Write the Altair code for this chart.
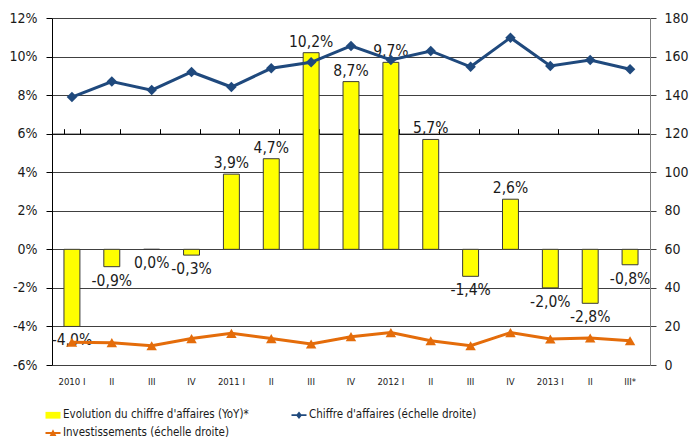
import altair as alt
import pandas as pd

quarter_labels = ["2010 I", "II", "III", "IV", "2011 I", "II", "III", "IV",
                  "2012 I", "II", "III", "IV", "2013 I", "II", "III*"]
yoy = [-4.0, -0.9, 0.0, -0.3, 3.9, 4.7, 10.2, 8.7, 9.7, 5.7, -1.4, 2.6, -2.0, -2.8, -0.8]
chiffre = [139, 147, 142.6, 152, 144.2, 153.9, 157, 165.5, 158.2, 162.9, 154.7, 169.8, 155.1, 158.2, 153.4]
invest = [11.8, 11.6, 10.0, 13.7, 16.4, 13.7, 10.9, 14.7, 16.8, 12.6, 10.0, 16.8, 13.5, 14.0, 12.6]

# legend order: laid out column by column in 2 columns
series_names = ["Evolution du chiffre d'affaires (YoY)*",
                "Investissements (échelle droite)",
                "Chiffre d'affaires (échelle droite)"]
series_colors = ["#FFFF00", "#E46C0A", "#1F497D"]
legend_paths = [
    "M-1,-0.45H1V0.45H-1Z",
    "M-1,-0.12H1V0.12H-1Z M0,-0.5L0.45,0.4H-0.45Z",
    "M-1,-0.12H1V0.12H-1Z M0,-0.5L0.4,0L0,0.5L-0.4,0Z",
]
BLUE, ORANGE = "#1F497D", "#E46C0A"

FONT = "DejaVu Sans Condensed"
W, H = 598, 347

df = pd.DataFrame({
    "pos": list(range(len(quarter_labels))),
    "yoy": yoy,
    "ca": chiffre,
    "inv": invest,
    "label": [f"{v:.1f}".replace(".", ",") + "%" for v in yoy],
    "series": series_names[0],
})
legend_df = pd.DataFrame({"series": series_names})

label_expr = "[" + ",".join("'" + s + "'" for s in quarter_labels) + "][datum.value]"

xscale = alt.Scale(paddingInner=0.6, paddingOuter=0.3)
lscale = alt.Scale(domain=[-6, 12], nice=False)
rscale = alt.Scale(domain=[0, 180], nice=False)
cscale = alt.Scale(domain=series_names, range=series_colors)
sscale = alt.Scale(domain=series_names, range=legend_paths)

leg = alt.Legend(
    title=None, orient="none", legendX=-7, legendY=389, columns=2,
    columnPadding=40, rowPadding=4, labelFont=FONT, labelFontSize=11.5,
    labelColor="#1a1a1a", symbolSize=225, symbolOpacity=1, labelLimit=0,
    labelOffset=2,
    symbolStrokeColor={"expr": "indexof(datum.value, 'Evolution') === 0 ? '#333333' : 'transparent'"},
    symbolStrokeWidth=1,
)

base = alt.Chart(df)

bars = base.mark_bar(stroke="#3a3a3a", strokeWidth=1).encode(
    x=alt.X("pos:O", scale=xscale, title=None,
            axis=alt.Axis(labelExpr=label_expr, ticks=False, domain=False,
                          labelAngle=0, labelPadding=11, labelFontSize=9.5,
                          labelFont=FONT, labelColor="#1a1a1a", grid=False)),
    y=alt.Y("yoy:Q", scale=lscale, title=None,
            axis=alt.Axis(values=list(range(-6, 13, 2)),
                          labelExpr="datum.value + '%'",
                          grid=True, gridColor="#404040", gridWidth=1,
                          domainColor="#000000", tickColor="#000000",
                          tickSize=6, labelPadding=9, labelFontSize=14,
                          labelFont=FONT, labelColor="#1a1a1a")),
    color=alt.Color("series:N", scale=cscale, legend=leg),
)

zero_axis = base.mark_text(opacity=0).encode(
    x=alt.X("pos:O", scale=xscale, title=None,
            axis=alt.Axis(labels=False, ticks=True, tickBand="extent",
                          domain=True, domainColor="#000000", tickColor="#000000",
                          tickSize=5, offset=-H * 6 / 18, grid=False)),
    y=alt.Y("yoy:Q", scale=lscale, axis=None),
    text="label:N",
)

txt_pos = base.mark_text(font=FONT, fontSize=15.5, baseline="alphabetic", dy=-6,
                         color="#1a1a1a").encode(
    x=alt.X("pos:O", scale=xscale, axis=None),
    y=alt.Y("yoy:Q", scale=lscale, axis=None),
    text="label:N",
).transform_filter("datum.yoy > 0")

txt_neg = base.mark_text(font=FONT, fontSize=15.5, baseline="top", dy=7,
                         color="#1a1a1a").encode(
    x=alt.X("pos:O", scale=xscale, axis=None),
    y=alt.Y("yoy:Q", scale=lscale, axis=None),
    text="label:N",
).transform_filter("datum.yoy <= 0")

ca_line = base.mark_line(color=BLUE, strokeWidth=3).encode(
    x=alt.X("pos:O", scale=xscale, axis=None),
    y=alt.Y("ca:Q", scale=rscale, title=None,
            axis=alt.Axis(orient="right", values=list(range(0, 181, 20)),
                          grid=False, domainColor="#808080", tickColor="#404040",
                          tickSize=6, labelPadding=8, labelFontSize=14,
                          labelFont=FONT, labelColor="#1a1a1a")),
)
ca_pts = base.mark_point(shape="diamond", filled=True, size=110, opacity=1,
                         color=BLUE).encode(
    x=alt.X("pos:O", scale=xscale, axis=None),
    y=alt.Y("ca:Q", scale=rscale, axis=None),
)
inv_line = base.mark_line(color=ORANGE, strokeWidth=3).encode(
    x=alt.X("pos:O", scale=xscale, axis=None),
    y=alt.Y("inv:Q", scale=rscale, axis=None),
)
inv_pts = base.mark_point(shape="triangle-up", filled=True, size=110, opacity=1,
                          color=ORANGE).encode(
    x=alt.X("pos:O", scale=xscale, axis=None),
    y=alt.Y("inv:Q", scale=rscale, axis=None),
)

legend_layer = alt.Chart(legend_df).mark_point(opacity=0, filled=True).encode(
    color=alt.Color("series:N", scale=cscale, legend=leg),
    shape=alt.Shape("series:N", scale=sscale, legend=leg),
)

chart = alt.layer(
    bars, zero_axis, txt_pos, txt_neg, ca_line, ca_pts, inv_line, inv_pts, legend_layer
).resolve_scale(y="independent").resolve_axis(x="independent").properties(
    width=W, height=H, padding={"left": 1, "top": 3, "right": 0, "bottom": 0},
).configure(font=FONT).configure_view(stroke=None)

chart.save("out.html", embed_options={"renderer": "svg", "actions": False})
